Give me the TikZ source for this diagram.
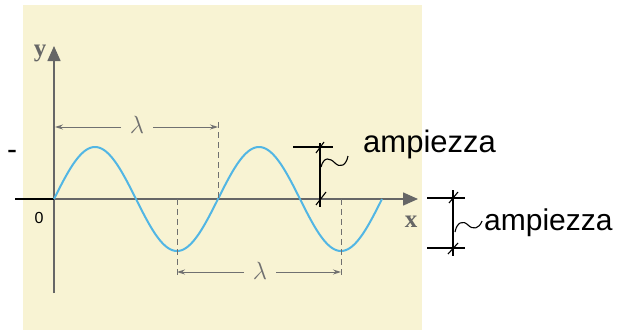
\documentclass[tikz,border=0pt]{standalone}
\usepackage{fontspec}
\setmainfont{Liberation Sans}
\newfontfamily\serifb{Liberation Serif}
\usetikzlibrary{arrows.meta}
\definecolor{paper}{HTML}{F8F3D3}
\definecolor{wave}{HTML}{52B6E4}
\definecolor{axisg}{HTML}{666666}
\definecolor{dimg}{HTML}{707070}
\tikzset{
  axisline/.style={draw=axisg, line width=1.5pt},
  dimline/.style={draw=dimg, line width=0.9pt},
  dimarrow/.style={dimline, -{Stealth[length=8pt,width=5pt]}},
  guide/.style={draw=dimg, line width=0.8pt, dash pattern=on 6pt off 4pt},
  ampline/.style={draw=black, line width=1.4pt},
  tick/.style={draw=black, line width=1.1pt},
  lamlabel/.style={text=dimg, font=\fontsize{25}{25}\selectfont, inner sep=1pt},
  amplabel/.style={anchor=base west, inner sep=0pt, text=black},
  axlabel/.style={text=axisg, font=\serifb\bfseries\fontsize{25}{25}\selectfont, inner sep=0pt},
}
\begin{document}
\begin{tikzpicture}[x=1pt,y=-1pt]
\useasboundingbox (0,0) rectangle (623,332);
\fill[white] (0,0) rectangle (623,332);
\fill[paper] (23,5) rectangle (422,330);

% axes
\coordinate (ybot) at (54,293);
\coordinate (ytop) at (54,46);
\coordinate (xleft) at (15,199);
\coordinate (o) at (54,199);
\coordinate (xtip) at (418,199);
\draw[axisline, -{Triangle[length=15pt,width=13pt]}] (ybot) -- (ytop);
\draw[axisline, -{Triangle[length=15pt,width=13pt]}] (o) -- (xtip);
\draw[black, line width=1.5pt] (xleft) -- (o);

\node[axlabel] (ylab) at (40,53) {y};
\node[axlabel] (xlab) at (411,222) {x};
\node[font=\fontsize{16}{16}\selectfont, inner sep=0pt] (zero) at (39,218) {0};
\node[font=\fontsize{30}{30}\selectfont, inner sep=0pt] (dash) at (12,155) {-};

% wave
\draw[wave, line width=2pt] plot[domain=0:720, samples=240] ({54+\x/360*164},{199-52*sin(\x)});

% guides
\coordinate (g1a) at (218,122);
\coordinate (g1b) at (218,199);
\coordinate (g2a) at (177,199);
\coordinate (g2b) at (177,278);
\coordinate (g3a) at (341,199);
\coordinate (g3b) at (341,278);
\draw[guide] (g1a) -- (g1b);
\draw[guide] (g2a) -- (g2b);
\draw[guide] (g3a) -- (g3b);

% top lambda
\node[lamlabel] (lam1) at (137,125) {$\lambda$};
\coordinate (l1l) at (55,127);
\coordinate (l1r) at (218,127);
\draw[dimarrow] ([xshift=-16pt,yshift=-2pt]lam1.center) -- (l1l);
\draw[dimarrow] ([xshift=16pt,yshift=-2pt]lam1.center) -- (l1r);

% bottom lambda
\node[lamlabel] (lam2) at (260,271) {$\lambda$};
\coordinate (l2l) at (177,272);
\coordinate (l2r) at (341,272);
\draw[dimarrow] ([xshift=-16pt,yshift=-1pt]lam2.center) -- (l2l);
\draw[dimarrow] ([xshift=16pt,yshift=-1pt]lam2.center) -- (l2r);

% amplitude marker 1
\coordinate (a1h1) at (293,147);
\coordinate (a1h2) at (333,147);
\coordinate (a1t) at (320,143);
\coordinate (a1b) at (320,207);
\draw[ampline] (a1h1) -- (a1h2);
\draw[ampline] (a1t) -- (a1b);
\draw[tick] (316,153) -- (324,142);
\draw[tick] (316,205) -- (326,192);
\draw[black, line width=1.1pt] (321,167) .. controls (324,156) and (330,158) .. (335,163) .. controls (340,168) and (346,166) .. (348,156);
\node[amplabel, font=\fontsize{31}{31}\selectfont] (amp1) at (363,152) {ampiezza};

% amplitude marker 2
\coordinate (a2h1) at (427,198);
\coordinate (a2h2) at (465,198);
\coordinate (a2h3) at (427,248);
\coordinate (a2h4) at (465,248);
\coordinate (a2t) at (453,190);
\coordinate (a2b) at (453,256);
\draw[ampline] (a2h1) -- (a2h2);
\draw[ampline] (a2h3) -- (a2h4);
\draw[ampline] (a2t) -- (a2b);
\draw[tick] (449,203) -- (458,192);
\draw[tick] (448,254) -- (458,243);
\draw[black, line width=1.1pt] (455,232) .. controls (457,222) and (463,220) .. (468,225) .. controls (473,230) and (479,229) .. (482,221);
\node[amplabel, font=\fontsize{30}{30}\selectfont] (amp2) at (484,230) {ampiezza};
\end{tikzpicture}
\end{document}
